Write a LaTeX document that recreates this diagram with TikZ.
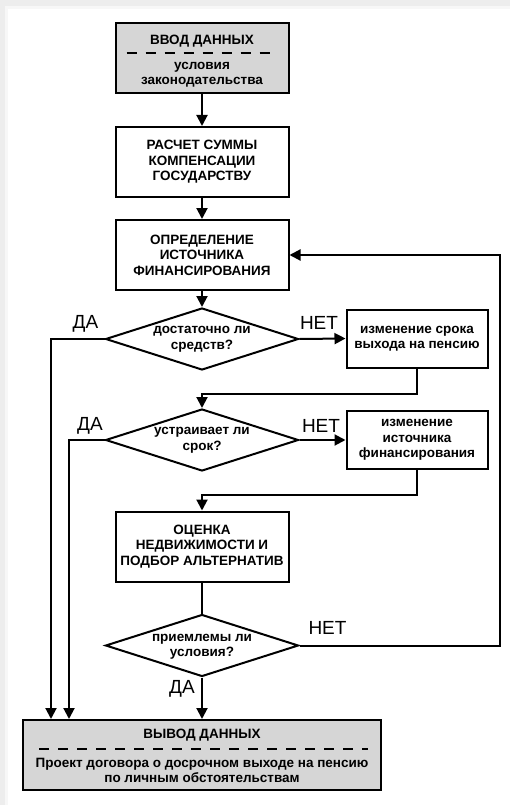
\documentclass[tikz,border=0pt]{standalone}
\usepackage{fontspec}
\setmainfont{Liberation Sans}
\usetikzlibrary{arrows.meta,shapes.geometric,positioning,calc}

\begin{document}
\begin{tikzpicture}[
    x=1pt, y=-1pt,
    block/.style={draw, rectangle, line width=2pt, minimum width=173pt, minimum height=70pt, inner sep=0pt, font=\fontsize{13.5}{15.5}\selectfont\bfseries, align=center},
    io/.style={block, fill=black!16},
    action/.style={block, minimum width=141pt, minimum height=58pt},
    decide/.style={draw, diamond, line width=2pt, minimum width=193pt, minimum height=62pt, inner sep=0pt},
    dtext/.style={font=\fontsize{13.5}{15.5}\selectfont\bfseries, align=center, inner sep=0pt},
    answer/.style={font=\fontsize{19}{19}\selectfont, inner sep=0pt},
    sep/.style={dash pattern=on 10pt off 9pt, line width=2pt},
    arrow/.style={-{Triangle[length=11pt, width=11pt]}, line width=2pt},
    link/.style={line width=2pt}
]
\useasboundingbox (0,0) rectangle (510,805);

% Card
\fill[black!7] (0,0) rectangle (510,805);
\fill[black!3] (5,6) rectangle (510,805);
\fill[white] (8,9) rectangle (510,805);

% Input
\node[io] (in) at (202,58.5) {};
\node[dtext] (inT) at (202,41) {ВВОД ДАННЫХ};
\node[dtext] (inB) at (202,74.5) {условия\\законодательства};
\draw[sep] ($(in.north west)+(12,31)$) -- ($(in.north east)+(-12,31)$);

% Main column
\node[block] (calc) at (202,162) {РАСЧЕТ СУММЫ\\КОМПЕНСАЦИИ\\ГОСУДАРСТВУ};
\node[block] (src) at (202,255) {ОПРЕДЕЛЕНИЕ\\ИСТОЧНИКА\\ФИНАНСИРОВАНИЯ};

% Decision 1
\node[decide] (d1) at (202,339) {};
\node[dtext] (d1t) at (202,339.5) {достаточно ли\\средств?};
\node[block, action] (act1) at (417,338.5) {изменение срока\\выхода на пенсию};

% Decision 2
\node[decide] (d2) at (202,440) {};
\node[dtext] (d2t) at (202,440.5) {устраивает ли\\срок?};
\node[block, action] (act2) at (417,440) {изменение\\источника\\финансирования};

% Estimate
\node[block] (est) at (202,546.5) {ОЦЕНКА\\НЕДВИЖИМОСТИ И\\ПОДБОР АЛЬТЕРНАТИВ};

% Decision 3
\node[decide] (d3) at (202,645.5) {};
\node[dtext] (d3t) at (202,647) {приемлемы ли\\условия?};

% Output
\node[io, minimum width=358pt] (out) at (202,755) {};
\node[dtext] (outT) at (202,735) {ВЫВОД ДАННЫХ};
\node[dtext] (outB) at (202,770.5) {Проект договора о досрочном выходе на пенсию\\по личным обстоятельствам};
\draw[sep] ($(out.north west)+(17,30)$) -- ($(out.north east)+(-14,30)$);

% Answers
\node[answer] (yes1) at (85.5,324) {ДА};
\node[answer] (no1) at (319,323) {НЕТ};
\node[answer] (yes2) at (90,426) {ДА};
\node[answer] (no2) at (321,426) {НЕТ};
\node[answer] (no3) at (327.5,628) {НЕТ};
\node[answer] (yes3) at (182,689) {ДА};

% Arrows
\draw[arrow] (in) -- (calc);
\draw[arrow] (calc) -- (src);
\draw[arrow] (src) -- (d1);
\draw[arrow] (d1.east) -- (act1.west);
\draw[arrow] (act1.south) -- ++(0,25) -| (d2.north);
\draw[arrow] (d2.east) -- (act2.west);
\draw[arrow] (act2.south) -- ++(0,25) -| (est.north);
\draw[link] (est) -- (d3);
\draw[arrow] (d3.east) -| ([xshift=210pt]src.east) -- (src.east);
\draw[arrow] (d3.south) -- (d3.south |- out.north);
\draw[arrow] (d1.west) -| ([xshift=29pt]out.north west);
\draw[arrow] (d2.west) -| ([xshift=47pt]out.north west);

\end{tikzpicture}
\end{document}
